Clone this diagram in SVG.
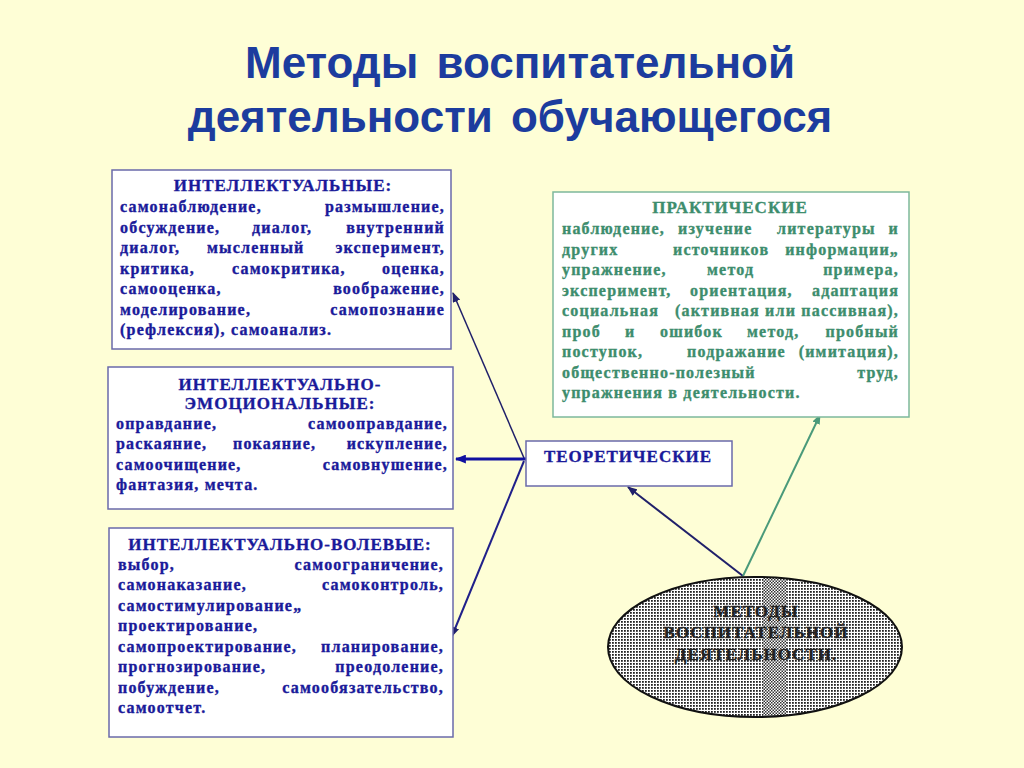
<svg xmlns="http://www.w3.org/2000/svg" width="1024" height="768" viewBox="0 0 1024 768">
<style>
.title{font-family:"Liberation Sans",Arial,sans-serif;font-weight:bold;font-size:44px;fill:#1C3C9E;text-anchor:middle;word-spacing:6px}
.t{font-family:"Liberation Serif","Times New Roman",serif;font-weight:bold;font-size:16px;letter-spacing:1.2px;stroke-width:0.35px}
.b{fill:#1A1A9A;stroke:#1A1A9A}
.g{fill:#3D8D6D;stroke:#3D8D6D}
.h{text-anchor:middle;font-size:17px;letter-spacing:1px}
.r{text-anchor:end}
.box{fill:#FFFFFF;stroke:#6A6AAA;stroke-width:1.5}
.gbox{fill:#FFFFFF;stroke:#7DB89C;stroke-width:1.5}
.e{fill:#222222;stroke:#222222}
</style>
<defs>
<pattern id="dots" width="3" height="3" patternUnits="userSpaceOnUse">
<rect width="3" height="3" fill="#FFFFFF"/>
<rect width="1.8" height="1.8" fill="#222"/>
</pattern>
<pattern id="dense" width="3" height="3" patternUnits="userSpaceOnUse">
<rect width="3" height="3" fill="#FFFFFF"/>
<rect width="1.5" height="1.5" fill="#333"/>
<rect x="1.5" y="1.5" width="1.5" height="1.5" fill="#333"/>
</pattern>
<clipPath id="ell"><ellipse cx="755" cy="647" rx="147" ry="70"/></clipPath>
<marker id="aN" viewBox="0 0 10 8" refX="9" refY="4" markerWidth="10" markerHeight="8" markerUnits="userSpaceOnUse" orient="auto"><path d="M0,0 L10,4 L0,8 Z" fill="#20206A"/></marker>
<marker id="aB" viewBox="0 0 10 8" refX="9" refY="4" markerWidth="11" markerHeight="9" markerUnits="userSpaceOnUse" orient="auto"><path d="M0,0 L10,4 L0,8 Z" fill="#1010A0"/></marker>
<marker id="aG" viewBox="0 0 10 8" refX="9" refY="4" markerWidth="10" markerHeight="8" markerUnits="userSpaceOnUse" orient="auto"><path d="M0,0 L10,4 L0,8 Z" fill="#4A9A7A"/></marker>
</defs>
<rect width="1024" height="768" fill="#FEFED6"/>
<g id="title">
<text class="title" x="520" y="78">Методы воспитательной</text>
<text class="title" x="510" y="132">деятельности обучающегося</text>
</g>
<g id="connectors" fill="none">
<line x1="524" y1="458" x2="453" y2="293" stroke="#20206A" stroke-width="1.5" marker-end="url(#aN)"/>
<line x1="526" y1="459" x2="456" y2="459" stroke="#1010A0" stroke-width="3" marker-end="url(#aB)"/>
<line x1="524" y1="461" x2="452" y2="636" stroke="#20208A" stroke-width="2" marker-end="url(#aN)"/>
<line x1="743" y1="576" x2="628" y2="487" stroke="#20206A" stroke-width="2" marker-end="url(#aN)"/>
<line x1="743" y1="576" x2="820" y2="415" stroke="#4A9A7A" stroke-width="2" marker-end="url(#aG)"/>
</g>
<g id="intellectual">
<rect class="box" x="112" y="170" width="339" height="179"/>
<text class="t b h" x="283" y="191">ИНТЕЛЛЕКТУАЛЬНЫЕ:</text>
<text class="t b" x="120" y="212">самонаблюдение,</text><text class="t b r" x="445" y="212">размышление,</text>
<text class="t b" x="120" y="232.5">обсуждение,</text><text class="t b" x="252" y="232.5">диалог,</text><text class="t b r" x="445" y="232.5">внутренний</text>
<text class="t b" x="120" y="253">диалог,</text><text class="t b" x="207" y="253">мысленный</text><text class="t b r" x="445" y="253">эксперимент,</text>
<text class="t b" x="120" y="273.5">критика,</text><text class="t b" x="232" y="273.5">самокритика,</text><text class="t b r" x="445" y="273.5">оценка,</text>
<text class="t b" x="120" y="294">самооценка,</text><text class="t b r" x="445" y="294">воображение,</text>
<text class="t b" x="120" y="314.5">моделирование,</text><text class="t b r" x="445" y="314.5">самопознание</text>
<text class="t b" x="120" y="335">(рефлексия), самоанализ.</text>
</g>
<g id="intellectual-emotional">
<rect class="box" x="108" y="367" width="345" height="142"/>
<text class="t b h" x="280" y="390">ИНТЕЛЛЕКТУАЛЬНО-</text>
<text class="t b h" x="280" y="408.5">ЭМОЦИОНАЛЬНЫЕ:</text>
<text class="t b" x="116" y="428.5">оправдание,</text><text class="t b r" x="448" y="428.5">самооправдание,</text>
<text class="t b" x="116" y="449">раскаяние,</text><text class="t b" x="233" y="449">покаяние,</text><text class="t b r" x="448" y="449">искупление,</text>
<text class="t b" x="116" y="469.5">самоочищение,</text><text class="t b r" x="448" y="469.5">самовнушение,</text>
<text class="t b" x="116" y="490">фантазия, мечта.</text>
</g>
<g id="intellectual-volitional">
<rect class="box" x="109" y="528" width="344" height="209"/>
<text class="t b h" x="280" y="549.5">ИНТЕЛЛЕКТУАЛЬНО-ВОЛЕВЫЕ:</text>
<text class="t b" x="118" y="569.5">выбор,</text><text class="t b r" x="444" y="569.5">самоограничение,</text>
<text class="t b" x="118" y="590">самонаказание,</text><text class="t b r" x="444" y="590">самоконтроль,</text>
<text class="t b" x="118" y="610.5">самостимулирование„</text>
<text class="t b" x="118" y="631">проектирование,</text>
<text class="t b" x="118" y="651.5">самопроектирование,</text><text class="t b r" x="444" y="651.5">планирование,</text>
<text class="t b" x="118" y="672">прогнозирование,</text><text class="t b r" x="444" y="672">преодоление,</text>
<text class="t b" x="118" y="692.5">побуждение,</text><text class="t b r" x="444" y="692.5">самообязательство,</text>
<text class="t b" x="118" y="713">самоотчет.</text>
</g>
<g id="practical">
<rect class="gbox" x="553" y="192" width="356" height="225"/>
<text class="t g h" x="730" y="213">ПРАКТИЧЕСКИЕ</text>
<text class="t g" x="562" y="234">наблюдение,</text><text class="t g" x="678" y="234">изучение</text><text class="t g" x="777" y="234">литературы</text><text class="t g r" x="899" y="234">и</text>
<text class="t g" x="562" y="254.5">других</text><text class="t g" x="673" y="254.5">источников</text><text class="t g r" x="899" y="254.5">информации„</text>
<text class="t g" x="562" y="275">упражнение,</text><text class="t g" x="707" y="275">метод</text><text class="t g r" x="899" y="275">примера,</text>
<text class="t g" x="562" y="295.5">эксперимент,</text><text class="t g" x="690" y="295.5">ориентация,</text><text class="t g r" x="899" y="295.5">адаптация</text>
<text class="t g" x="562" y="316">социальная</text><text class="t g r" x="899" y="316">(активная или пассивная),</text>
<text class="t g" x="562" y="336.5">проб</text><text class="t g" x="625" y="336.5">и</text><text class="t g" x="660" y="336.5">ошибок</text><text class="t g" x="747" y="336.5">метод,</text><text class="t g r" x="899" y="336.5">пробный</text>
<text class="t g" x="562" y="357">поступок,</text><text class="t g" x="687" y="357">подражание</text><text class="t g r" x="899" y="357">(имитация),</text>
<text class="t g" x="562" y="377.5">общественно-полезный</text><text class="t g r" x="899" y="377.5">труд,</text>
<text class="t g" x="562" y="398">упражнения в деятельности.</text>
</g>
<g id="theoretical">
<rect class="box" x="526" y="441" width="206" height="45" stroke="#5A5A9A"/>
<text class="t b h" x="628" y="462">ТЕОРЕТИЧЕСКИЕ</text>
</g>
<g id="methods">
<ellipse cx="755" cy="647" rx="147" ry="70" fill="url(#dots)"/>
<rect x="763" y="570" width="24" height="150" fill="url(#dense)" clip-path="url(#ell)"/>
<ellipse cx="755" cy="647" rx="147" ry="70" fill="none" stroke="#111" stroke-width="2"/>
<text class="t e h" x="756" y="617">МЕТОДЫ</text>
<text class="t e h" x="756" y="638">ВОСПИТАТЕЛЬНОЙ</text>
<text class="t e h" x="756" y="660">ДЕЯТЕЛЬНОСТИ.</text>
</g>
</svg>
